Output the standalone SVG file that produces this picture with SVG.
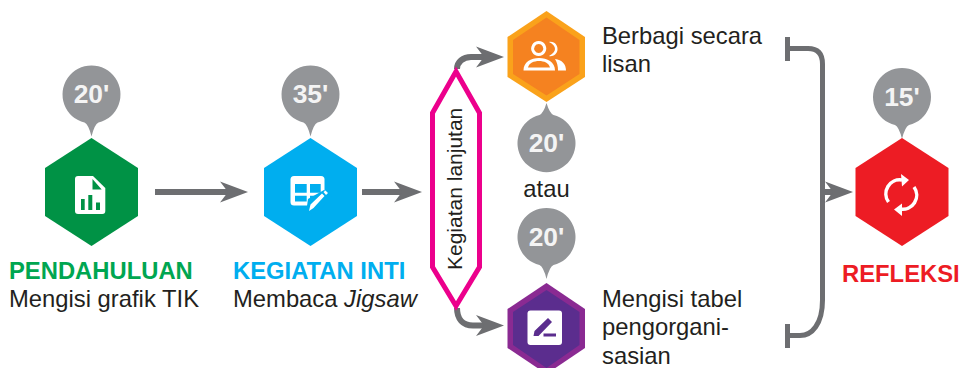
<svg xmlns="http://www.w3.org/2000/svg" width="962" height="368" viewBox="0 0 962 368">
<style>
text{font-family:"Liberation Sans",Arial,sans-serif;font-size:23.8px;fill:#231f20}
.b{font-weight:700}
.t{font-weight:700;font-size:26.4px;fill:#f4f4f4;text-anchor:middle}
.bub{fill:#939598}
.w{fill:#fff}
.ln{fill:none;stroke:#6d6e71;stroke-width:6}
.ah{fill:#6d6e71}
</style>
<defs>
<path id="bubDown" d="M-7 28.100A29 29 0 1 1 7 28.100Q3 30 0 42Q-3 30-7 28.100Z"/>
<path id="h" d="M0-54L46.500-24V24L0 54L-46.500 24V-24Z"/>
<path id="head" d="M-28-10.500L0 0L-28 10.500L-20 0Z"/>
</defs>
<g id="connectors">
<path class="ln" d="M155 192H228"/><use href="#head" class="ah" x="248" y="192"/>
<path class="ln" d="M362 192H402"/><use href="#head" class="ah" x="422" y="192"/>
<path class="ln" d="M457 69C457 62 463 57 471 57H488"/><use href="#head" class="ah" x="504" y="57"/>
<path class="ln" d="M457 308C457 319 463 325.500 473 325.500H488"/><use href="#head" class="ah" x="504" y="325.500"/>
<path fill="none" stroke="#6d6e71" stroke-width="5" d="M787.500 37V61M787.500 48.500H808C818 48.500 822.500 54 822.500 64V300C822.500 324 812 335.500 800 335.500H787.500M787.500 324V348"/>
<path class="ln" d="M822 192H836"/><use href="#head" class="ah" x="853" y="192"/>
</g>
<g id="n-pendahuluan">
<use href="#bubDown" class="bub" x="91.500" y="94.500"/>
<use href="#h" fill="#009245" x="91.500" y="192"/>
<path class="w" d="M78 176H93L105.300 188V211A3 3 0 0 1 102.300 214H78A3 3 0 0 1 75 211V179A3 3 0 0 1 78 176Z"/>
<path fill="#009245" d="M92.500 179L101.700 189.500H92.500ZM81 199H84.700V210H81ZM88.300 195H92.300V210H88.300ZM96 202.500H100V210H96Z"/>
<text class="t" x="91.500" y="103">20'</text>
<text class="b" x="9" y="279" style="fill:#00a651">PENDAHULUAN</text>
<text x="9" y="307">Mengisi grafik TIK</text>
</g>
<g id="n-kegiatan-inti">
<use href="#bubDown" class="bub" x="310.500" y="94.500"/>
<use href="#h" fill="#00aeef" x="310.500" y="192"/>
<rect x="290.500" y="176" width="34" height="29.500" rx="3.500" class="w"/>
<path fill="#00aeef" d="M295 184H306.700V192.700H295ZM310 184H320.700V192.700H310ZM295 195.700H306.700V201.500H295ZM310 195.700H317V198L311.500 201.500H310Z"/>
<path fill="#00aeef" d="M306 213L308 199L324 190L332 197L316 214Z"/>
<path class="w" d="M309 211L310.500 204.500L322 193.500L324.500 196L313.500 208L309 211ZM323.500 192L325.500 190.500L328 193L326 195Z"/>
<text class="t" x="310.500" y="103">35'</text>
<text class="b" x="233" y="279" style="fill:#00aeef">KEGIATAN INTI</text>
<text x="233" y="307">Membaca <tspan font-style="italic">Jigsaw</tspan></text>
</g>
<g id="n-lanjutan">
<path fill="#fff" stroke="#ec008c" stroke-width="5" d="M456 71.500L479.500 113V267L456 306L432.500 267V113Z"/>
<text transform="translate(462,270) rotate(-90)" style="font-size:21px">Kegiatan lanjutan</text>
</g>
<g id="n-berbagi">
<path fill="#faa21b" d="M546.500 11L585 37V77L546.500 102L507.500 77V37Z"/>
<path fill="#f58220" d="M546.500 17.500L579.500 40V74L546.500 95.500L513 74V40Z"/>
<path fill="none" stroke="#fff" stroke-width="3" d="M538.700 42.500a6 6 0 1 0 .01 0Z"/>
<path class="w" d="M523.500 70.500C523.500 62 531 58 539 58S555 62 555 70.500ZM528 67.500H550C549 63 544 61 539 61S529 63 528 67.500Z" fill-rule="evenodd"/>
<path class="w" d="M549 42C555 41 558 46 557.500 50C557 54 553 57 549 56C553 54 555 51 555 49C555 46 553 44 549 42ZM555 59C562 60 566 64 566 70.500H558C558 66 557 62 555 59Z"/>
<text x="602" y="44">Berbagi secara</text>
<text x="602" y="72">lisan</text>
</g>
<g id="n-mid-20">
<path class="bub" d="M539.500 115Q543.500 113 546.500 103Q549.500 113 553.500 115A29 29 0 1 1 539.500 115Z"/>
<text class="t" x="546.500" y="152">20'</text>
<text x="546.500" y="197" text-anchor="middle">atau</text>
</g>
<g id="n-mengisi">
<use href="#bubDown" class="bub" x="546.500" y="237"/>
<text class="t" x="546.500" y="246">20'</text>
<path fill="#8a2a92" d="M546.500 283L585 309V348L546.500 374L507.500 348V309Z"/>
<path fill="#5b2d8e" d="M546.500 290L579.500 312V345L546.500 368L513 345V312Z"/>
<rect x="527.500" y="310.500" width="34.500" height="34.500" rx="3" class="w"/>
<path fill="#5b2d8e" d="M533.500 336L534.500 331L548 318L552 322L538.500 336ZM543.500 333.500H556V336.500H543.500Z"/>
<text x="602" y="307">Mengisi tabel</text>
<text x="602" y="335">pengorgani-</text>
<text x="602" y="364">sasian</text>
</g>
<g id="n-refleksi">
<use href="#bubDown" class="bub" x="902" y="97"/>
<use href="#h" fill="#ed1c24" x="902" y="192"/>
<path fill="none" stroke="#fff" stroke-width="3.500" d="M888.500 202A14 14 0 0 1 902 180M914 187A14 14 0 0 1 900 209"/>
<path class="w" d="M901 174L909 180L902 186.500ZM902 203.500L894 209.500L902 216Z"/>
<text class="t" x="902" y="106">15'</text>
<text class="b" x="842" y="282" style="fill:#ed1c24">REFLEKSI</text>
</g>
</svg>
